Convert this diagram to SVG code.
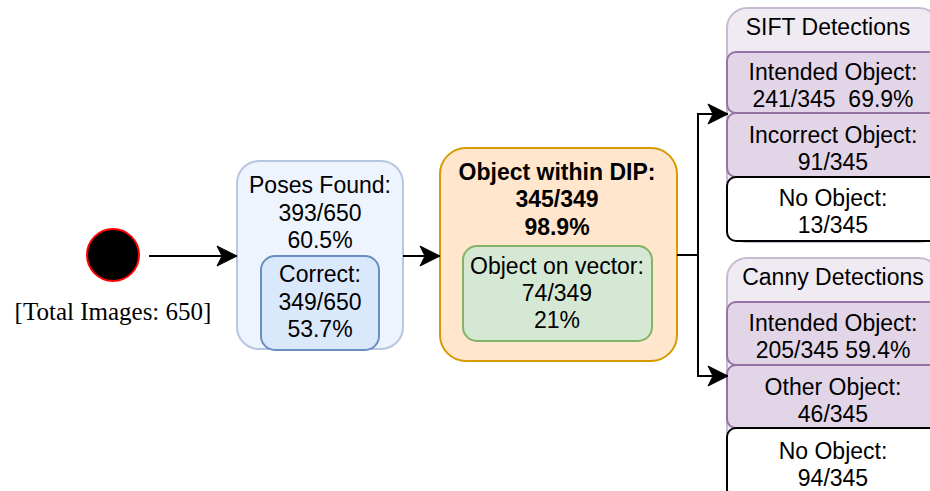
<svg xmlns="http://www.w3.org/2000/svg" width="930" height="491" viewBox="0 0 930 491">
<defs>
<style>
text{font-family:"Liberation Sans",Arial,Helvetica,sans-serif;font-size:23px;fill:#000;text-anchor:middle}
.b{font-weight:bold}
.serif{font-family:"Liberation Serif","Times New Roman",serif;font-size:25px}
.conn{fill:none;stroke:#000;stroke-width:2}
.lane{fill:#f0eaf3;stroke:#cab9d2;stroke-width:2}
.row{fill:#e1d5e7;stroke:#9673a6;stroke-width:2}
.none{fill:#fff;stroke:#000;stroke-width:2}
</style>
<marker id="arr" markerUnits="userSpaceOnUse" markerWidth="22" markerHeight="22" refX="21" refY="11" orient="auto" viewBox="0 0 22 22">
<path d="M1,1 L21,11 L1,21 L6,11 Z" fill="#000" stroke="#000" stroke-width="1"/>
</marker>
</defs>
<rect width="930" height="491" fill="#fff"/>

<g id="start">
<circle cx="113" cy="255" r="26" fill="#000" stroke="#ff0000" stroke-width="2"/>
<text class="serif" x="113" y="320">[Total Images: 650]</text>
</g>

<g id="poses">
<rect x="237" y="161" width="166" height="188" rx="22" fill="#edf4fe" stroke="#b6c7df" stroke-width="2"/>
<text x="320" y="193">Poses Found:</text>
<text x="320" y="220.5">393/650</text>
<text x="320" y="248">60.5%</text>
</g>
<g id="correct">
<rect x="261" y="256" width="118" height="94" rx="14" fill="#dae8fc" stroke="#6c8ebf" stroke-width="2"/>
<text x="320" y="282">Correct:</text>
<text x="320" y="309.5">349/650</text>
<text x="320" y="337">53.7%</text>
</g>

<g id="dip">
<rect x="440" y="148" width="237" height="213" rx="26" fill="#ffe6cc" stroke="#d79b00" stroke-width="2"/>
<text class="b" x="557" y="180">Object within DIP:</text>
<text class="b" x="557" y="207">345/349</text>
<text class="b" x="557" y="235">98.9%</text>
</g>
<g id="vector">
<rect x="463" y="246" width="189" height="95" rx="14" fill="#d5e8d4" stroke="#82b366" stroke-width="2"/>
<text x="557" y="274">Object on vector:</text>
<text x="557" y="301">74/349</text>
<text x="557" y="328">21%</text>
</g>

<g id="sift">
<rect class="lane" x="727" y="8" width="212" height="234" rx="20"/>
<text x="828" y="35">SIFT Detections</text>
<rect class="row" x="727" y="52" width="212" height="61" rx="9"/>
<text x="833" y="80">Intended Object:</text>
<text x="833" y="107" xml:space="preserve">241/345  69.9%</text>
<rect class="row" x="727" y="113" width="212" height="64" rx="9"/>
<text x="833" y="143">Incorrect Object:</text>
<text x="833" y="170">91/345</text>
<rect class="none" x="727" y="177" width="212" height="64" rx="9"/>
<text x="833" y="206">No Object:</text>
<text x="833" y="233">13/345</text>
</g>

<g id="canny">
<rect class="lane" x="727" y="258" width="212" height="250" rx="20"/>
<text x="833" y="285">Canny Detections</text>
<rect class="row" x="727" y="302" width="212" height="63" rx="9"/>
<text x="833" y="331">Intended Object:</text>
<text x="833" y="358">205/345 59.4%</text>
<rect class="row" x="727" y="365" width="212" height="63" rx="9"/>
<text x="833" y="395">Other Object:</text>
<text x="833" y="422">46/345</text>
<rect class="none" x="727" y="428" width="212" height="70" rx="9"/>
<text x="833" y="459">No Object:</text>
<text x="833" y="486">94/345</text>
</g>

<g id="connectors">
<path class="conn" d="M149,256 L237,256" marker-end="url(#arr)"/>
<path class="conn" d="M403,256 L440,256" marker-end="url(#arr)"/>
<path class="conn" d="M677,255 L698,255 L698,114 L728,114" marker-end="url(#arr)"/>
<path class="conn" d="M698,255 L698,376 L728,376" marker-end="url(#arr)"/>
</g>
</svg>
